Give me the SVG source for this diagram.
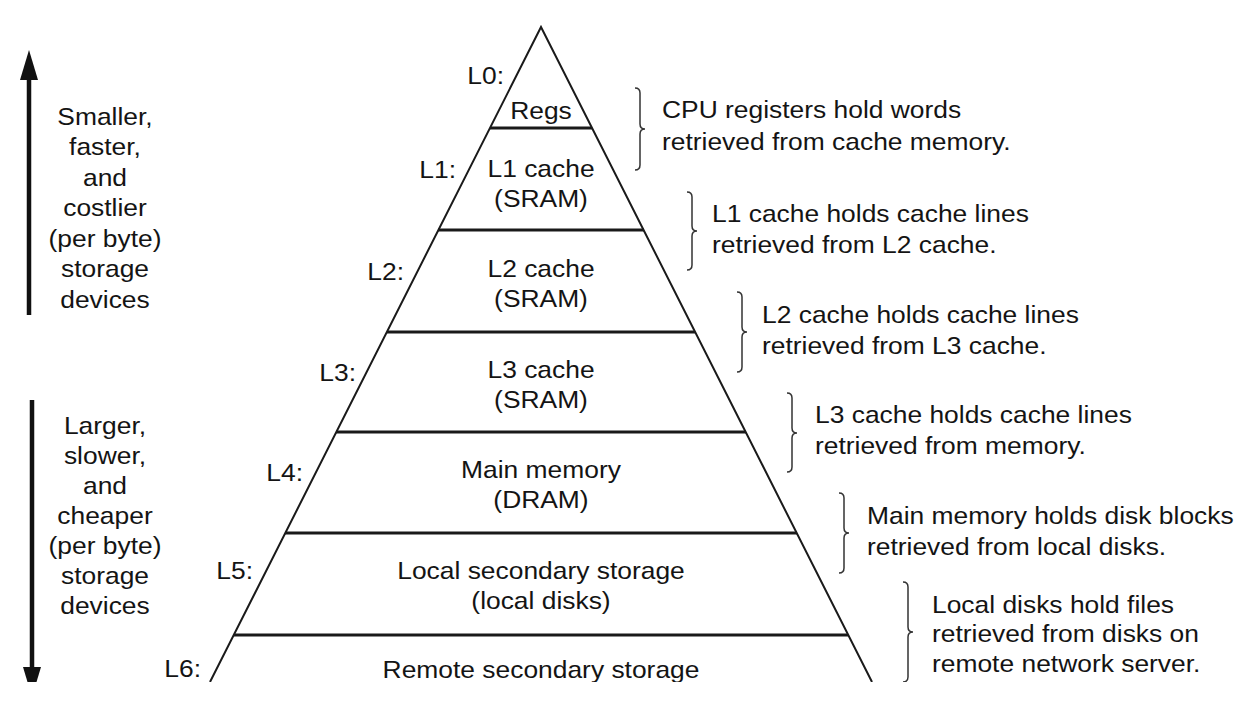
<svg xmlns="http://www.w3.org/2000/svg" width="1253" height="720" viewBox="0 0 1253 720">
<style>
text{font-family:"Liberation Sans",Arial,Helvetica,sans-serif;font-size:24px;fill:#141414}
.c{text-anchor:middle}
.e{text-anchor:end}
.side{fill:none;stroke:#1a1a1a;stroke-width:2;stroke-linejoin:miter}
.tier{stroke:#1a1a1a;stroke-width:3.2}
.brace{fill:none;stroke:#333;stroke-width:1.5}
.arrow{stroke:#111;stroke-width:4.5}
</style>
<defs>
<clipPath id="crop"><rect x="0" y="0" width="1253" height="682"/></clipPath>
<marker id="head" markerUnits="userSpaceOnUse" markerWidth="30" markerHeight="18" viewBox="0 0 30 18" refX="0" refY="9" orient="auto"><path d="M0,0 L30,9 L0,18 z" fill="#111"/></marker>
</defs>
<rect width="1253" height="720" fill="#fff"/>
<g clip-path="url(#crop)">
<g id="pyramid">
<path class="side" d="M210,682 L541,27 L872,682"/>
</g>
<g id="L0">
<text class="e" transform="translate(504,84) scale(1.1,1)">L0:</text>
<text class="c" transform="translate(541,119) scale(1.1,1)">Regs</text>
<line class="tier" x1="490" y1="128" x2="592" y2="128"/>
</g>
<g id="L1">
<text class="e" transform="translate(456,178) scale(1.1,1)">L1:</text>
<text class="c" transform="translate(541,177) scale(1.1,1)"><tspan x="0">L1 cache</tspan><tspan x="0" dy="30">(SRAM)</tspan></text>
<line class="tier" x1="438" y1="230" x2="644" y2="230"/>
</g>
<g id="L2">
<text class="e" transform="translate(404,280) scale(1.1,1)">L2:</text>
<text class="c" transform="translate(541,277) scale(1.1,1)"><tspan x="0">L2 cache</tspan><tspan x="0" dy="30">(SRAM)</tspan></text>
<line class="tier" x1="387" y1="332" x2="695" y2="332"/>
</g>
<g id="L3">
<text class="e" transform="translate(356,381) scale(1.1,1)">L3:</text>
<text class="c" transform="translate(541,378) scale(1.1,1)"><tspan x="0">L3 cache</tspan><tspan x="0" dy="30">(SRAM)</tspan></text>
<line class="tier" x1="336" y1="432" x2="746" y2="432"/>
</g>
<g id="L4">
<text class="e" transform="translate(303,481) scale(1.1,1)">L4:</text>
<text class="c" transform="translate(541,478) scale(1.1,1)"><tspan x="0">Main memory</tspan><tspan x="0" dy="30">(DRAM)</tspan></text>
<line class="tier" x1="285" y1="533" x2="797" y2="533"/>
</g>
<g id="L5">
<text class="e" transform="translate(253,579) scale(1.1,1)">L5:</text>
<text class="c" transform="translate(541,579) scale(1.1,1)"><tspan x="0">Local secondary storage</tspan><tspan x="0" dy="30">(local disks)</tspan></text>
<line class="tier" x1="234" y1="635" x2="848" y2="635"/>
</g>
<g id="L6">
<text class="e" transform="translate(201,677) scale(1.1,1)">L6:</text>
<text class="c" transform="translate(541,678) scale(1.1,1)">Remote secondary storage</text>
</g>
<g id="notes">
<path class="brace" d="M635,88 Q640,88 640,93 L640,124 Q640,129 645,129 Q640,129 640,134 L640,165 Q640,170 635,170"/>
<text transform="translate(662,118) scale(1.1,1)"><tspan x="0">CPU registers hold words</tspan><tspan x="0" dy="32">retrieved from cache memory.</tspan></text>
<path class="brace" d="M687,192 Q692,192 692,197 L692,226 Q692,231 697,231 Q692,231 692,236 L692,265 Q692,270 687,270"/>
<text transform="translate(712,222) scale(1.1,1)"><tspan x="0">L1 cache holds cache lines</tspan><tspan x="0" dy="31">retrieved from L2 cache.</tspan></text>
<path class="brace" d="M737,292 Q742,292 742,297 L742,327 Q742,332 747,332 Q742,332 742,337 L742,367 Q742,372 737,372"/>
<text transform="translate(762,323) scale(1.1,1)"><tspan x="0">L2 cache holds cache lines</tspan><tspan x="0" dy="31">retrieved from L3 cache.</tspan></text>
<path class="brace" d="M787,393 Q792,393 792,398 L792,428 Q792,433 797,433 Q792,433 792,438 L792,467 Q792,472 787,472"/>
<text transform="translate(815,423) scale(1.1,1)"><tspan x="0">L3 cache holds cache lines</tspan><tspan x="0" dy="31">retrieved from memory.</tspan></text>
<path class="brace" d="M839,493 Q844,493 844,498 L844,528 Q844,533 849,533 Q844,533 844,538 L844,568 Q844,573 839,573"/>
<text transform="translate(867,524) scale(1.1,1)"><tspan x="0">Main memory holds disk blocks</tspan><tspan x="0" dy="31">retrieved from local disks.</tspan></text>
<path class="brace" d="M903,582 Q908,582 908,587 L908,627 Q908,632 913,632 Q908,632 908,637 L908,677 Q908,682 903,682"/>
<text transform="translate(932,613) scale(1.1,1)"><tspan x="0">Local disks hold files</tspan><tspan x="0" dy="29.5">retrieved from disks on</tspan><tspan x="0" dy="29.5">remote network server.</tspan></text>
</g>
<g id="connectors">
<line class="arrow" x1="29" y1="315" x2="29" y2="80" marker-end="url(#head)"/>
<line class="arrow" x1="32" y1="400" x2="32" y2="667" marker-end="url(#head)"/>
</g>
<g id="axis-labels">
<text class="c" transform="translate(105,125) scale(1.1,1)"><tspan x="0">Smaller,</tspan><tspan x="0" dy="30.5">faster,</tspan><tspan x="0" dy="30.5">and</tspan><tspan x="0" dy="30.5">costlier</tspan><tspan x="0" dy="30.5">(per byte)</tspan><tspan x="0" dy="30.5">storage</tspan><tspan x="0" dy="30.5">devices</tspan></text>
<text class="c" transform="translate(105,434) scale(1.1,1)"><tspan x="0">Larger,</tspan><tspan x="0" dy="30">slower,</tspan><tspan x="0" dy="30">and</tspan><tspan x="0" dy="30">cheaper</tspan><tspan x="0" dy="30">(per byte)</tspan><tspan x="0" dy="30">storage</tspan><tspan x="0" dy="30">devices</tspan></text>
</g>
</g>
</svg>
